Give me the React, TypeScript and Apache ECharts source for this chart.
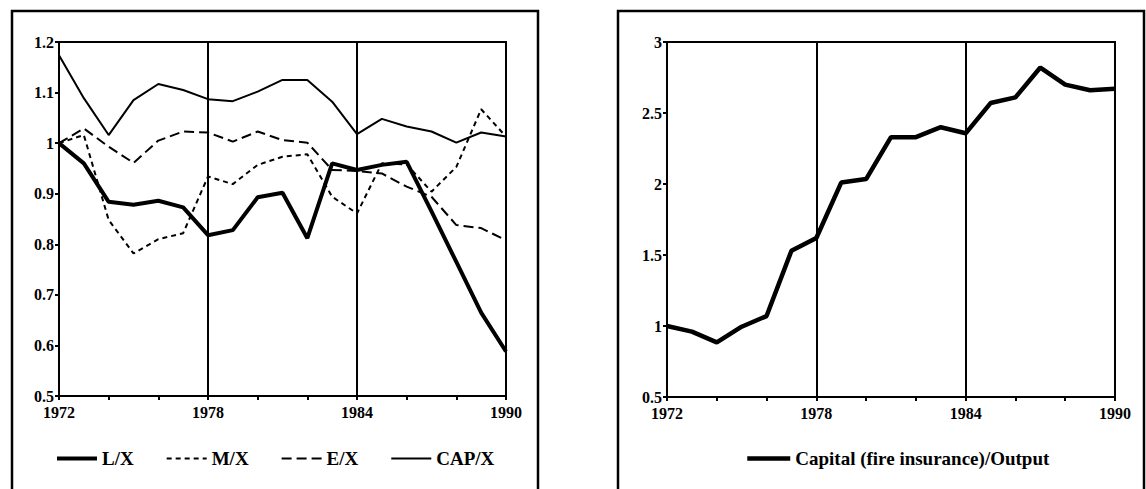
import React, { useEffect, useRef } from "react";
import * as echarts from "echarts";

const years = [1972, 1973, 1974, 1975, 1976, 1977, 1978, 1979, 1980, 1981, 1982, 1983, 1984, 1985, 1986, 1987, 1988, 1989, 1990];
const lx = [1.0, 0.96, 0.884, 0.878, 0.886, 0.873, 0.818, 0.828, 0.893, 0.902, 0.812, 0.96, 0.947, 0.957, 0.963, 0.865, 0.765, 0.665, 0.588];
const mx = [1.0, 1.016, 0.848, 0.782, 0.81, 0.822, 0.934, 0.919, 0.957, 0.973, 0.978, 0.894, 0.861, 0.96, 0.958, 0.904, 0.953, 1.067, 1.013];
const ex = [1.0, 1.029, 0.993, 0.961, 1.005, 1.023, 1.021, 1.003, 1.023, 1.006, 1.001, 0.947, 0.945, 0.94, 0.914, 0.894, 0.838, 0.832, 0.808];
const capx = [1.174, 1.089, 1.016, 1.085, 1.117, 1.105, 1.087, 1.083, 1.102, 1.125, 1.125, 1.082, 1.018, 1.048, 1.033, 1.023, 1.001, 1.021, 1.013];
const capitalOutput = [1.0, 0.96, 0.885, 0.995, 1.07, 1.53, 1.62, 2.01, 2.035, 2.33, 2.33, 2.4, 2.357, 2.57, 2.61, 2.82, 2.7, 2.66, 2.67];
const leftSeriesNames = ["L/X", "M/X", "E/X", "CAP/X"];
const rightSeriesName = "Capital (fire insurance)/Output";

const FONT = "'Liberation Serif', 'Times New Roman', serif";

const pairs = (vals: number[]) => years.map((y, i) => [y, vals[i]]);

const lineStyles: Record<string, { width: number; type: any }> = {
  "L/X": { width: 4, type: "solid" },
  "M/X": { width: 2, type: [5, 4] },
  "E/X": { width: 2, type: [10, 5] },
  "CAP/X": { width: 2, type: "solid" },
  [rightSeriesName]: { width: 4.5, type: "solid" },
};

const xAxisBase = (gridIndex: number) => ({
  type: "value" as const,
  gridIndex,
  min: 1972,
  max: 1990,
  interval: 6,
  axisLine: { show: true, lineStyle: { color: "#000", width: 2 } },
  axisTick: { show: true, length: 4, lineStyle: { color: "#000", width: 2 } },
  minorTick: { show: true, splitNumber: 3, length: 4, lineStyle: { color: "#000", width: 2 } },
  axisLabel: { color: "#000", fontFamily: FONT, fontSize: 16, fontWeight: "bold" as const, margin: 8, formatter: (v: number) => String(v) },
  splitLine: { show: true, lineStyle: { color: "#000", width: 2 } },
});

const yAxisBase = (gridIndex: number, min: number, max: number, interval: number) => ({
  type: "value" as const,
  gridIndex,
  min,
  max,
  interval,
  axisLine: { show: true, lineStyle: { color: "#000", width: 2 } },
  axisTick: { show: true, length: 4, lineStyle: { color: "#000", width: 2 } },
  axisLabel: { color: "#000", fontFamily: FONT, fontSize: 16, fontWeight: "bold" as const, margin: 5 },
  splitLine: { show: false },
});

export default function App() {
  const ref = useRef<HTMLDivElement>(null);
  useEffect(() => {
    if (!ref.current) return;
    const chart = echarts.init(ref.current, null, { renderer: "svg" });
    const legendText = { color: "#000", fontFamily: FONT, fontSize: 19, fontWeight: "bold" as const };
    const legendItem = (name: string) => ({
      name,
      itemStyle: { opacity: 0 },
      lineStyle: { color: "#000", width: lineStyles[name].width, type: lineStyles[name].type },
    });
    const seriesFor = (name: string, vals: number[], gi: number) => ({
      name,
      type: "line",
      xAxisIndex: gi,
      yAxisIndex: gi,
      data: pairs(vals),
      symbol: "none",
      lineStyle: { color: "#000", width: lineStyles[name].width, type: lineStyles[name].type },
      itemStyle: { color: "#000" },
    });
    chart.setOption({
      animation: false,
      backgroundColor: "#fff",
      grid: [
        { left: 59, top: 42, width: 447, height: 354, show: true, borderColor: "#000", borderWidth: 2, backgroundColor: "transparent" },
        { left: 667, top: 42, width: 448, height: 355, show: true, borderColor: "#000", borderWidth: 2, backgroundColor: "transparent" },
      ],
      xAxis: [xAxisBase(0), xAxisBase(1)],
      yAxis: [yAxisBase(0, 0.5, 1.2, 0.1), yAxisBase(1, 0.5, 3, 0.5)],
      legend: [
        {
          data: leftSeriesNames.map(legendItem),
          left: 50,
          top: 444,
          itemWidth: 40,
          itemHeight: 14,
          itemGap: 32,
          itemStyle: { opacity: 0 },
          textStyle: legendText,
        },
        {
          data: [legendItem(rightSeriesName)],
          left: 740,
          top: 444,
          itemWidth: 43,
          itemHeight: 14,
          itemStyle: { opacity: 0 },
          textStyle: legendText,
        },
      ],
      graphic: [
        { type: "rect", shape: { x: 12, y: 11, width: 526, height: 500 }, style: { fill: "none", stroke: "#000", lineWidth: 2.5 }, silent: true },
        { type: "rect", shape: { x: 618, y: 11, width: 526, height: 500 }, style: { fill: "none", stroke: "#000", lineWidth: 2.5 }, silent: true },
      ],
      series: [
        seriesFor("L/X", lx, 0),
        seriesFor("M/X", mx, 0),
        seriesFor("E/X", ex, 0),
        seriesFor("CAP/X", capx, 0),
        seriesFor(rightSeriesName, capitalOutput, 1),
      ],
    });
    return () => chart.dispose();
  }, []);
  return <div ref={ref} style={{ position: "absolute", left: 0, top: 0, width: 1146, height: 489 }} />;
}
